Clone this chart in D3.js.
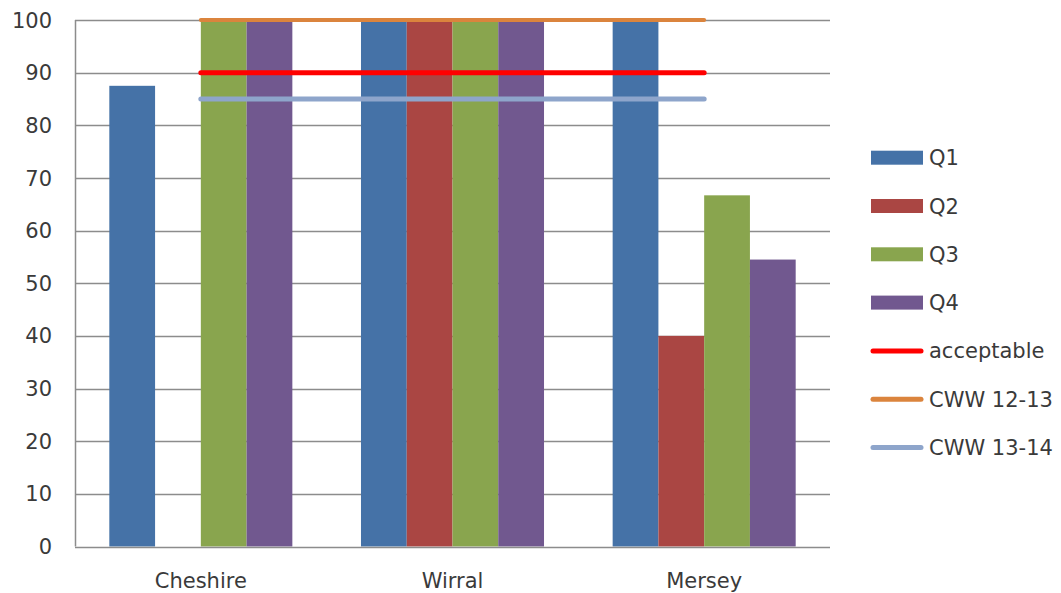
<!DOCTYPE html>
<html>
<head>
<meta charset="utf-8">
<script src="https://cdn.jsdelivr.net/npm/d3@7"></script>
<style>
  body { margin: 0; background: #fff; }
  text { font-family: "DejaVu Sans", Verdana, sans-serif; fill: #3a3a3a; }
</style>
</head>
<body>
<div id="chart"></div>
<script>
// data
const categories = ["Cheshire", "Wirral", "Mersey"];
const barSeries = ["Q1", "Q2", "Q3", "Q4"];
const q1 = [87.5, 100, 100];
const q2 = [null, 100, 40];
const q3 = [100, 100, 66.7];
const q4 = [100, 100, 54.5];
const lineSeries = ["acceptable", "CWW 12-13", "CWW 13-14"];
const acceptable = [90, 90, 90];
const cww1213 = [100, 100, 100];
const cww1314 = [85, 85, 85];
const yTicks = [0, 10, 20, 30, 40, 50, 60, 70, 80, 90, 100];

const barColors = ["#4572A7", "#AA4643", "#89A54E", "#71588F"];
const lineColors = ["#FF0000", "#DB843D", "#8EA5CB"];

function drawChart() {
    let width = 1061, height = 593;
    let plot = {left: 75, right: 830, top: 20, bottom: 546.5};
    let fontSize = 21;

    let svg = d3.select("#chart").append("svg")
        .attr("width", width)
        .attr("height", height);

    let y = d3.scaleLinear().domain([0, 100]).range([plot.bottom, plot.top]);

    let x0 = d3.scaleBand().domain(categories).range([plot.left, plot.right]).padding(0);
    // gap width 150% -> outer padding 0.75 of a bar on each side
    let x1 = d3.scaleBand().domain(barSeries).range([0, x0.bandwidth()])
        .paddingInner(0).paddingOuter(0.75);

    // gridlines
    svg.append("g").selectAll("line")
        .data(yTicks.filter(d => d > 0))
        .join("line")
        .attr("x1", plot.left).attr("x2", plot.right)
        .attr("y1", d => Math.round(y(d)) + 0.5).attr("y2", d => Math.round(y(d)) + 0.5)
        .attr("stroke", "#8c8c8c").attr("stroke-width", 1.5);

    // y labels
    svg.append("g").selectAll("text")
        .data(yTicks)
        .join("text")
        .attr("x", 52)
        .attr("y", d => y(d))
        .attr("dy", "0.36em")
        .attr("text-anchor", "end")
        .attr("font-size", fontSize)
        .text(d => d);

    // bars
    let table = categories.map((c, i) => ({cat: c, vals: [q1[i], q2[i], q3[i], q4[i]]}));
    let groups = svg.append("g").selectAll("g")
        .data(table)
        .join("g")
        .attr("transform", d => "translate(" + x0(d.cat) + ",0)");
    groups.selectAll("rect")
        .data(d => d.vals.map((v, j) => ({s: barSeries[j], v: v, j: j})).filter(d => d.v != null))
        .join("rect")
        .attr("x", d => x1(d.s))
        .attr("width", x1.bandwidth())
        .attr("y", d => y(d.v))
        .attr("height", d => y(0) - y(d.v))
        .attr("fill", d => barColors[d.j]);

    // axis lines
    svg.append("line")
        .attr("x1", plot.left + 0.5).attr("x2", plot.left + 0.5)
        .attr("y1", plot.top).attr("y2", plot.bottom)
        .attr("stroke", "#8c8c8c").attr("stroke-width", 1.5);
    svg.append("line")
        .attr("x1", plot.left).attr("x2", plot.right)
        .attr("y1", Math.round(plot.bottom) + 0.5).attr("y2", Math.round(plot.bottom) + 0.5)
        .attr("stroke", "#8c8c8c").attr("stroke-width", 1.5);

    // x labels
    svg.append("g").selectAll("text")
        .data(categories)
        .join("text")
        .attr("x", d => x0(d) + x0.bandwidth() / 2)
        .attr("y", 588)
        .attr("text-anchor", "middle")
        .attr("font-size", fontSize)
        .text(d => d);

    // lines
    let lineData = [acceptable, cww1213, cww1314];
    let line = d3.line()
        .x((d, i) => x0(categories[i]) + x0.bandwidth() / 2)
        .y(d => y(d));
    let widths = [5, 4, 5];
    let drawOrder = [2, 0, 1];
    drawOrder.forEach(k => {
        svg.append("path")
            .datum(lineData[k])
            .attr("d", line)
            .attr("fill", "none")
            .attr("stroke", lineColors[k])
            .attr("stroke-width", widths[k])
            .attr("stroke-linecap", "round");
    });

    // legend
    let legend = svg.append("g");
    let items = barSeries.map((s, i) => ({name: s, type: "bar", color: barColors[i]}))
        .concat(lineSeries.map((s, i) => ({name: s, type: "line", color: lineColors[i]})));
    let row = legend.selectAll("g")
        .data(items)
        .join("g")
        .attr("transform", (d, i) => "translate(871," + (157.7 + i * 48.3) + ")");
    row.filter(d => d.type === "bar").append("rect")
        .attr("x", 0).attr("y", -7)
        .attr("width", 52).attr("height", 14)
        .attr("fill", d => d.color);
    row.filter(d => d.type === "line").append("line")
        .attr("x1", 2).attr("x2", 50)
        .attr("stroke", d => d.color)
        .attr("stroke-width", 5)
        .attr("stroke-linecap", "round");
    row.append("text")
        .attr("x", 58)
        .attr("dy", "0.36em")
        .attr("font-size", fontSize)
        .text(d => d.name);
}

drawChart();
</script>
</body>
</html>
